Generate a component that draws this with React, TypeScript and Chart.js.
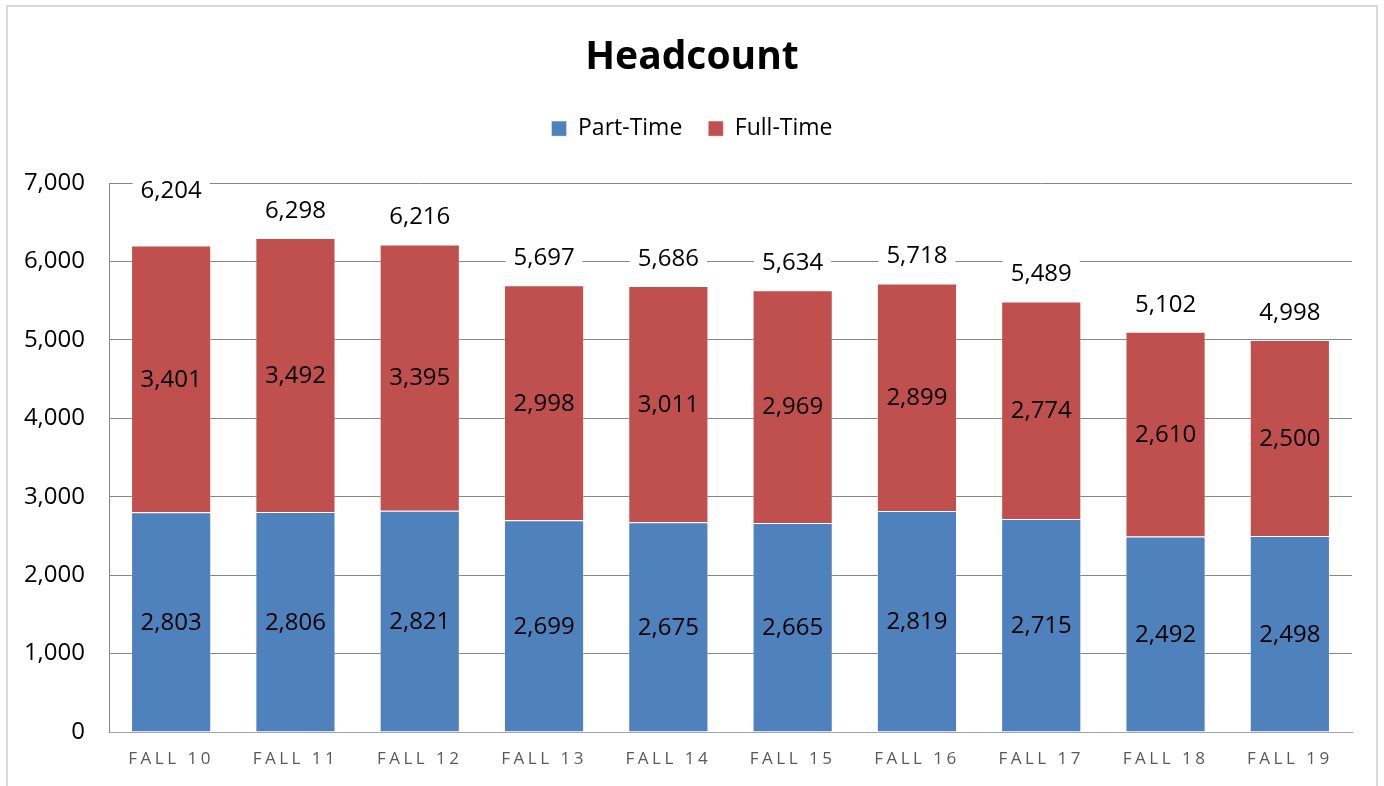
import React, { useEffect, useRef } from "react";
import { Chart, registerables } from "chart.js";

Chart.register(...registerables);

const categories = ["FALL 10", "FALL 11", "FALL 12", "FALL 13", "FALL 14", "FALL 15", "FALL 16", "FALL 17", "FALL 18", "FALL 19"];
const partTime = [2803, 2806, 2821, 2699, 2675, 2665, 2819, 2715, 2492, 2498];
const fullTime = [3401, 3492, 3395, 2998, 3011, 2969, 2899, 2774, 2610, 2500];
const totals = [6204, 6298, 6216, 5697, 5686, 5634, 5718, 5489, 5102, 4998];
const yTicks = [0, 1000, 2000, 3000, 4000, 5000, 6000, 7000];

const FONT = "'Open Sans', Lato, sans-serif";
const BLUE = "#4F81BD";
const RED = "#C0504D";
const GRID = "#868686";

const fmt = (v: number) => v.toLocaleString("en-US");

const labelsPlugin = {
  id: "barLabels",
  afterDatasetsDraw(chart: any) {
    const ctx = chart.ctx;
    ctx.save();
    ctx.font = `24px ${FONT}`;
    ctx.fillStyle = "#000";
    ctx.textAlign = "center";
    ctx.textBaseline = "middle";
    chart.data.datasets.forEach((ds: any, di: number) => {
      const meta = chart.getDatasetMeta(di);
      meta.data.forEach((bar: any, i: number) => {
        const top = Math.min(bar.y, bar.base);
        const bottom = Math.max(bar.y, bar.base);
        ctx.fillText(fmt(ds.data[i]), bar.x, (top + bottom) / 2 + 1);
      });
    });
    const lastMeta = chart.getDatasetMeta(chart.data.datasets.length - 1);
    const ys = chart.scales.y;
    lastMeta.data.forEach((bar: any, i: number) => {
      const yTop = ys.getPixelForValue(totals[i]);
      const lift = i === 0 ? 55 : 28;
      const cy = yTop - lift;
      const text = fmt(totals[i]);
      const w = ctx.measureText(text).width;
      ctx.fillStyle = "#fff";
      ctx.fillRect(bar.x - w / 2 - 8, cy - 14, w + 16, 28);
      ctx.fillStyle = "#000";
      ctx.fillText(text, bar.x, cy + 1);
    });
    ctx.restore();
  },
};

const spacingPlugin = {
  id: "xLetterSpacing",
  afterLayout(chart: any) {
    const xs = chart.scales.x;
    if (xs && !xs.__wrapped) {
      const orig = xs.drawLabels;
      xs.drawLabels = function (area: any) {
        const c = this.ctx;
        c.save();
        try {
          (c as any).letterSpacing = "3.5px";
        } catch (e) {}
        orig.call(this, area);
        c.restore();
      };
      xs.__wrapped = true;
    }
  },
};

export default function App() {
  const ref = useRef<HTMLCanvasElement | null>(null);
  useEffect(() => {
    if (!ref.current) return;
    const chart = new Chart(ref.current, {
      type: "bar",
      data: {
        labels: categories,
        datasets: [
          {
            label: "Part-Time",
            data: partTime,
            backgroundColor: BLUE,
            borderColor: "rgba(255,255,255,0.35)",
            borderWidth: 1,
            barPercentage: 0.645,
            categoryPercentage: 1,
          },
          {
            label: "Full-Time",
            data: fullTime,
            backgroundColor: RED,
            borderColor: "rgba(255,255,255,0.35)",
            borderWidth: 1,
            barPercentage: 0.645,
            categoryPercentage: 1,
          },
        ],
      },
      options: {
        responsive: false,
        animation: false,
        devicePixelRatio: 1,
        layout: { padding: { top: 10, left: 0, right: 0, bottom: 0 } },
        plugins: {
          title: {
            display: true,
            text: "Headcount",
            color: "#000",
            font: { family: FONT, size: 39, weight: "bold" },
            padding: { top: 24.6, bottom: 9.7 },
          },
          subtitle: {
            display: true,
            text: "",
            weight: 500,
            font: { family: FONT, size: 10 },
            padding: { top: 20.9, bottom: 0 },
          },
          legend: {
            display: true,
            position: "top",
            labels: {
              color: "#000",
              font: { family: FONT, size: 23 },
              boxWidth: 15,
              boxHeight: 15,
              padding: 26,
            },
          },
          tooltip: { enabled: false },
        },
        scales: {
          x: {
            stacked: true,
            grid: { display: false, drawTicks: false },
            border: { display: true, color: "#a6a6a6", width: 1 },
            ticks: {
              color: "#595959",
              font: { family: FONT, size: 17 },
              padding: 17,
              maxRotation: 0,
              autoSkip: false,
            },
            afterFit(scale: any) {
              scale.height = 54;
              scale.paddingRight = 32;
            },
          },
          y: {
            stacked: true,
            min: 0,
            max: 7000,
            afterBuildTicks(scale: any) {
              scale.ticks = yTicks.map((v) => ({ value: v }));
            },
            grid: {
              color: (c: any) => (c.tick && c.tick.value === 0 ? "#a6a6a6" : GRID),
              lineWidth: 1,
              drawTicks: false,
            },
            border: { display: true, color: GRID, width: 1 },
            ticks: {
              color: "#000",
              font: { family: FONT, size: 24 },
              padding: 24,
              callback: (v: any) => fmt(Number(v)),
            },
            afterFit(scale: any) {
              scale.width = 109;
            },
          },
        },
      },
      plugins: [labelsPlugin, spacingPlugin],
    } as any);
    return () => chart.destroy();
  }, []);

  return (
    <div>
      <div
        style={{
          position: "fixed",
          left: 6,
          top: 5,
          width: 1372,
          height: 800,
          border: "2px solid #d9d9d9",
          boxSizing: "border-box",
        }}
      />
      <canvas
        ref={ref}
        width={1384}
        height={786}
        style={{ position: "fixed", left: 0, top: 0, width: 1384, height: 786 }}
      />
    </div>
  );
}
